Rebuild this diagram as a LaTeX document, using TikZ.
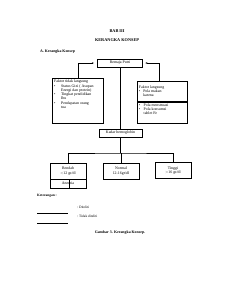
\documentclass[tikz,border=0pt]{standalone}
\usepackage{fontspec}
\setmainfont{Liberation Serif}
\usetikzlibrary{arrows.meta,positioning}
\newcommand{\butir}[2][14pt]{\par\hangindent=#1\hangafter=1\noindent\makebox[#1][l]{\textbullet}#2}

\begin{document}
\begin{tikzpicture}[x=2.565pt,y=-2.565pt,
  kotak/.style={draw,line width=1.2pt,font=\fontsize{10}{11}\selectfont,align=center,
                inner sep=1pt,minimum width=#1},kotak/.default=92pt,
  titik/.style={dash pattern=on 1.5pt off 1pt,line width=1.2pt},
  panah/.style={-{Stealth[length=5pt,width=4pt]},line width=1.2pt},
  garis/.style={line width=1.2pt}]
  \useasboundingbox (0,0) rectangle (232,300);
  % judul
  \node[font=\bfseries\fontsize{11}{13}\selectfont] (bab) at (117,31) {BAB III};
  \node[font=\bfseries\fontsize{11}{13}\selectfont] (judul) at (117,40) {KERANGKA KONSEP};
  \node[font=\bfseries\fontsize{10}{12}\selectfont,anchor=west,inner sep=0pt] (subjudul) at (40,52) {A. Kerangka Konsep};
  % kotak utama
  \node[kotak=115pt,minimum height=20pt] (remaja) at (120,63) {Remaja Putri};
  \node[kotak=131pt,titik,minimum height=115pt,inner sep=0pt] (kiri) at (77.5,100.5)
    {\parbox[c][113pt][t]{120pt}{\raggedright\vspace*{4pt}Faktor tidak langsung
     \butir[18pt]{Status Gizi ( Asupan\newline Energi dan protein)}
     \butir[18pt]{Tingkat pendidikan\newline Ibu}
     \butir[18pt]{Pendapatan orang\newline tua}}};
  \node[kotak=128pt,minimum height=51pt,inner sep=0pt] (kananA) at (162,91)
    {\parbox{118pt}{\raggedright Faktor langsung
     \butir[11pt]{Pola makan\newline karena}}};
  \node[kotak=128pt,titik,minimum height=54pt,inner sep=0pt] (kananB) at (162,112.5)
    {\parbox[c][52pt][t]{118pt}{\raggedright\vspace*{3pt}%
     \butir[12pt]{Pola menstruasi}
     \butir[12pt]{Pola konsumsi\newline tablet Fe}}};
  \node[kotak=110pt,minimum height=20pt] (kadar) at (120.5,133) {Kadar hemoglobin};
  \node[kotak,minimum height=41pt] (rendah) at (68,171) {Rendah\\[1pt]$<$12 gr/dl};
  \node[kotak,minimum height=41pt] (normal) at (121,171) {Normal\\[1pt]12-16gr/dl};
  \node[kotak,minimum height=41pt] (tinggi) at (173,170.5) {Tinggi\\[1pt]$>$16 gr/dl};
  \node[kotak,minimum height=23pt] (anemia) at (68,183.5) {Anemia};
  % penghubung
  \coordinate (kakiKiri) at (78,78);
  \coordinate (kakiKanan) at (159,81);
  \coordinate (cabang) at (120.5,153);
  \draw[panah,shorten >=9pt] (kakiKiri) |- (remaja.west);
  \draw[panah,shorten >=7pt] (kakiKanan) |- (remaja.east);
  \draw[garis] (remaja.south) -- (kadar.north |- remaja.south) -- (kadar.north);
  \draw[garis] (kadar.south) -- (cabang);
  \draw[garis] (rendah.north) |- (cabang) -| (tinggi.north);
  \draw[garis] (normal.north) |- (cabang);
  \draw[garis] ([xshift=2pt]rendah.south) -- ([xshift=2pt]anemia.south);
  % keterangan
  \node[anchor=west,inner sep=0pt,font=\bfseries\fontsize{9}{11}\selectfont] (ket) at (37,196) {Keterangan :};
  \coordinate (solidA) at (37,213);
  \coordinate (solidB) at (68,213);
  \coordinate (putusA) at (37,223);
  \coordinate (putusB) at (68,223);
  \draw[garis] (solidA) -- (solidB);
  \draw[titik] (putusA) -- (putusB);
  \node[anchor=west,inner sep=0pt,font=\fontsize{9}{11}\selectfont] (teliti) at (77,207) {: Diteliti};
  \node[anchor=west,inner sep=0pt,font=\fontsize{9}{11}\selectfont] (tidak) at (77,216) {: Tidak diteliti};
  \node[font=\bfseries\fontsize{10}{12}\selectfont] (gambar) at (120,233) {Gambar 3. Kerangka Konsep.};
\end{tikzpicture}
\end{document}
